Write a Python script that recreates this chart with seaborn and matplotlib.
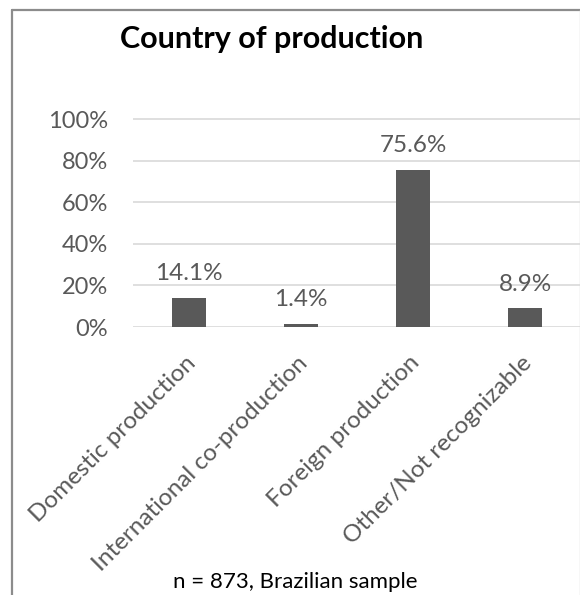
import matplotlib
matplotlib.use("Agg")
import matplotlib.pyplot as plt
import matplotlib.transforms as mtransforms
from matplotlib.lines import Line2D
import seaborn as sns
import pandas as pd

categories = ["Domestic production", "International co-production",
              "Foreign production", "Other/Not recognizable"]
shares = [14.1, 1.4, 75.6, 8.9]
y_ticks = [0, 20, 40, 60, 80, 100]
y_tick_labels = ["0%", "20%", "40%", "60%", "80%", "100%"]
title = "Country of production"
note = "n = 873, Brazilian sample"

sns.set_theme(style="white")
plt.rcParams["font.family"] = ["Lato", "DejaVu Sans"]

GREY = "#595959"
W, H = 580, 595
fig = plt.figure(figsize=(W / 100, H / 100), dpi=100)

# axes placed in pixel terms: 0% line at y=327, 100% line at y=119
px_per_unit = (327 - 119) / 100
top_val = 102
ax_top = 327 - top_val * px_per_unit
ax = fig.add_axes([133 / W, 1 - 327 / H, (W - 133) / W, (327 - ax_top) / H])

df = pd.DataFrame({"category": categories, "share": shares})
sns.barplot(data=df, x="category", y="share", color=GREY, saturation=1,
            width=0.31, ax=ax)
for p in ax.patches:
    p.set_facecolor(GREY)
    p.set_edgecolor("none")

ax.set_xlim(-0.5, 3.49)
ax.set_ylim(0, top_val)
ax.set_yticks(y_ticks)
ax.set_yticklabels(y_tick_labels)
ax.yaxis.grid(True, color="#d9d9d9", linewidth=1.2)
ax.set_axisbelow(True)
for s in ax.spines.values():
    s.set_visible(False)
ax.set_xlabel("")
ax.set_ylabel("")
ax.tick_params(axis="y", length=0, pad=18, labelsize=17, labelcolor=GREY)
ax.tick_params(axis="x", length=0, pad=18, labelsize=17.5, labelcolor=GREY)

offset = mtransforms.ScaledTranslation(-4 / 100, 0, fig.dpi_scale_trans)
for lab in ax.get_xticklabels():
    lab.set_rotation(45)
    lab.set_ha("right")
    lab.set_va("top")
    lab.set_rotation_mode("anchor")
    lab.set_transform(lab.get_transform() + offset)

# value labels above bars
for i, v in enumerate(shares):
    ax.annotate(f"{v:.1f}%", xy=(i, v), xytext=(0, 10), textcoords="offset points",
                ha="center", va="bottom", fontsize=17.5, color=GREY)

fig.text(272 / W, 1 - 48 / H, title, ha="center", va="baseline",
         fontsize=22, fontweight="bold", color="black")
fig.text(295 / W, 1 - 582 / H, note, ha="center", va="center",
         fontsize=16, color="black")

# chart frame
fig.add_artist(Line2D([11.5 / W, 11.5 / W], [0, 1 - 9.5 / H], color="#8c8c8c",
                      linewidth=1.6, transform=fig.transFigure))
fig.add_artist(Line2D([11.5 / W, 1], [1 - 9.5 / H, 1 - 9.5 / H], color="#8c8c8c",
                      linewidth=1.6, transform=fig.transFigure))
fig.add_artist(Line2D([579.5 / W, 579.5 / W], [0, 1 - 9.5 / H], color="#d9d9d9",
                      linewidth=1, transform=fig.transFigure))

fig.savefig("out.png", dpi=100)
